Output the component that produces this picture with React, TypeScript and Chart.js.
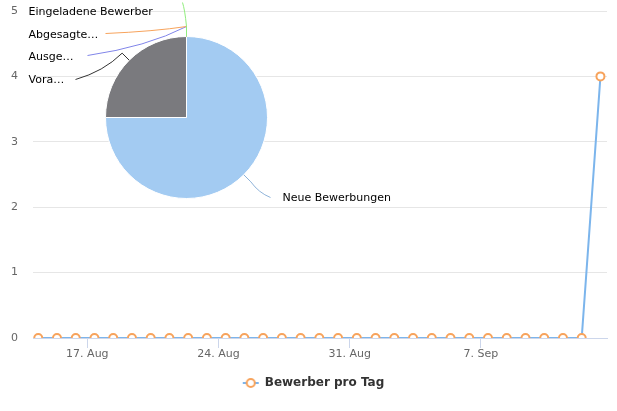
import { useEffect, useRef } from "react";
import { Chart, registerables } from "chart.js";

Chart.register(...registerables);

// line series: applicants per day, one point per day
const applicantsPerDay = [
  0, 0, 0, 0, 0, 0, 0, 0, 0, 0,
  0, 0, 0, 0, 0, 0, 0, 0, 0, 0,
  0, 0, 0, 0, 0, 0, 0, 0, 0, 0,
  4,
];
const firstPointDay = 0.38; // days after 14 Aug 00:00
const tickDays = [3, 10, 17, 24];
const tickLabels = ["17. Aug", "24. Aug", "31. Aug", "7. Sep"];
const seriesName = "Bewerber pro Tag";

// pie: applicants per stage
const stageLabels = ["Neue Bewerbungen", "Vora…", "Ausge…", "Abgesagte…", "Eingeladene Bewerber"];
const stageCounts = [3, 1, 0, 0, 0];
const stageColors = ["#a3cbf2", "#7a7a7e", "#8085e9", "#f7a35c", "#90ed7d"];
const connectorColors = ["#8fb3d9", "#333333", "#8085e9", "#f7a35c", "#90ed7d"];

// label layout, relative to pie centre
const labelOffsets = [[96, 81], [-158, -37], [-158, -60], [-158, -82], [-158, -105]];
const connectorStarts = [[84, 80], [-111, -38], [-99, -62], [-81, -84], [-4, -115]];

const FONT = "'DejaVu Sans', Verdana, sans-serif";

const pieLabelPlugin = {
  id: "pieLabels",
  afterDatasetsDraw(chart: any) {
    const ctx = chart.ctx;
    const meta = chart.getDatasetMeta(0);
    ctx.save();
    meta.data.forEach((arc: any, i: number) => {
      const { x, y, startAngle, endAngle, outerRadius } = arc.getProps(
        ["x", "y", "startAngle", "endAngle", "outerRadius"],
        true
      );
      const mid = (startAngle + endAngle) / 2;
      const ax = x + Math.cos(mid) * outerRadius;
      const ay = y + Math.sin(mid) * outerRadius;
      const ex = x + Math.cos(mid) * (outerRadius + 10);
      const ey = y + Math.sin(mid) * (outerRadius + 10);
      const sx = x + connectorStarts[i][0];
      const sy = y + connectorStarts[i][1];

      ctx.beginPath();
      ctx.strokeStyle = connectorColors[i];
      ctx.lineWidth = 1;
      ctx.moveTo(sx, sy);
      ctx.quadraticCurveTo(sx + (ex - sx) * 0.6, sy + (ey - sy) * 0.3, ex, ey);
      ctx.lineTo(ax, ay);
      ctx.stroke();

      ctx.fillStyle = "#000";
      ctx.font = `11px ${FONT}`;
      ctx.textAlign = "left";
      ctx.textBaseline = "middle";
      ctx.fillText(stageLabels[i], x + labelOffsets[i][0], y + labelOffsets[i][1]);
    });
    ctx.restore();
  },
};

// legend symbol: short line with a hollow marker, drawn right of centre
function makeLegendIcon() {
  const c = document.createElement("canvas");
  c.width = 40;
  c.height = 12;
  const g = c.getContext("2d")!;
  g.strokeStyle = "#7cb5ec";
  g.lineWidth = 2;
  g.beginPath();
  g.moveTo(22, 6);
  g.lineTo(38, 6);
  g.stroke();
  g.beginPath();
  g.arc(30, 6, 4, 0, Math.PI * 2);
  g.fillStyle = "#fff";
  g.fill();
  g.strokeStyle = "#f7a35c";
  g.stroke();
  return c;
}

export default function App() {
  const lineRef = useRef<HTMLCanvasElement | null>(null);
  const pieRef = useRef<HTMLCanvasElement | null>(null);

  useEffect(() => {
    if (!lineRef.current || !pieRef.current) return;
    const icon = makeLegendIcon();

    const line = new Chart(lineRef.current, {
      type: "line",
      data: {
        datasets: [
          {
            label: seriesName,
            data: applicantsPerDay.map((v, i) => ({ x: firstPointDay + i, y: v })),
            borderColor: "#7cb5ec",
            borderWidth: 2,
            tension: 0,
            pointRadius: 4,
            pointBorderWidth: 2,
            pointBackgroundColor: "#fff",
            pointBorderColor: "#f7a35c",
          },
        ],
      },
      options: {
        responsive: false,
        animation: false,
        events: [],
        layout: { padding: { top: 11, right: 10, left: 0, bottom: 12 } },
        scales: {
          x: {
            type: "linear",
            min: 0.1,
            max: 30.73,
            afterBuildTicks: (s: any) => {
              s.ticks = tickDays.map((v) => ({ value: v }));
            },
            afterFit: (s: any) => {
              s.height = 29;
              s.paddingLeft = 0;
              s.paddingRight = 0;
            },
            ticks: {
              callback: (_v: any, i: number) => tickLabels[i],
              color: "#666",
              font: { family: FONT, size: 11 },
              padding: 0,
              maxRotation: 0,
              autoSkip: false,
            },
            grid: { drawOnChartArea: false, drawTicks: true, tickLength: 10, color: "#ccd6eb" },
            border: { color: "#ccd6eb", width: 1 },
          },
          y: {
            min: 0,
            max: 5,
            ticks: { stepSize: 1, color: "#666", font: { family: FONT, size: 11 }, padding: 15 },
            grid: { color: "#e6e6e6", drawTicks: false },
            border: { display: false },
            afterFit: (s: any) => {
              s.width = 33;
              s.paddingTop = 0;
              s.paddingBottom = 0;
            },
          },
        },
        plugins: {
          tooltip: { enabled: false },
          legend: {
            position: "bottom",
            labels: {
              usePointStyle: true,
              pointStyleWidth: 36,
              color: "#333",
              font: { family: FONT, size: 12, weight: "bold" },
              generateLabels: (chart: any) => {
                const items = Chart.defaults.plugins.legend.labels.generateLabels(chart);
                items.forEach((it: any) => (it.pointStyle = icon));
                return items;
              },
            },
          },
        },
      },
    } as any);

    const pie = new Chart(pieRef.current, {
      type: "pie",
      data: {
        labels: stageLabels,
        datasets: [
          {
            data: stageCounts,
            backgroundColor: stageColors,
            borderColor: "#fff",
            borderWidth: 1,
          },
        ],
      },
      options: {
        responsive: false,
        animation: false,
        events: [],
        layout: { padding: { left: 105, top: 36, right: 349, bottom: 212 } },
        plugins: { legend: { display: false }, tooltip: { enabled: false } },
      },
      plugins: [pieLabelPlugin],
    } as any);

    return () => {
      line.destroy();
      pie.destroy();
    };
  }, []);

  return (
    <div style={{ position: "fixed", left: 0, top: 0, width: 617, height: 411, background: "#fff" }}>
      <canvas ref={lineRef} width={617} height={411} style={{ position: "absolute", left: 0, top: 0 }} />
      <canvas ref={pieRef} width={617} height={411} style={{ position: "absolute", left: 0, top: 0 }} />
    </div>
  );
}
